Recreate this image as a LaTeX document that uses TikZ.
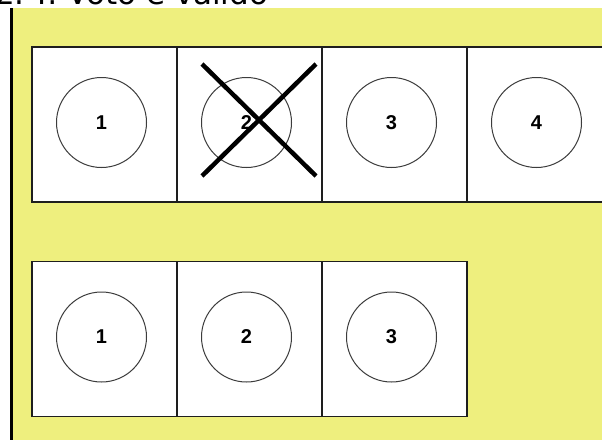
\documentclass[tikz,border=0pt]{standalone}
\usepackage{fontspec}
\setmainfont{DejaVu Sans}
\newfontfamily\numfont{Liberation Sans}
\definecolor{pageyellow}{RGB}{238,239,126}
\definecolor{boxline}{RGB}{30,30,30}
\definecolor{circline}{RGB}{60,60,60}
\begin{document}
\begin{tikzpicture}[x=1pt,y=-1pt,
  cell/.style={draw=boxline,line width=1.3pt,fill=white,minimum width=145pt,minimum height=155pt,inner sep=0pt,outer sep=0pt},
  ballot/.style={circle,draw=circline,line width=1pt,minimum size=90pt,inner sep=0pt,font=\numfont\bfseries\fontsize{20}{20}\selectfont},
  crossline/.style={line width=4.5pt}]
\useasboundingbox (0,0) rectangle (602,440);
\fill[white] (0,0) rectangle (602,440);
\fill[pageyellow] (12,8) rectangle (602,440);
\draw[line width=3pt] (11,8) -- (11,440);
\node[anchor=base west,inner sep=0pt,font=\fontsize{31}{31}\selectfont] (title) at (-5,4.5) {2. I: Voto è valido};
% top row
\node[cell] (t1) at (104.5,124.5) {};
\node[cell] (t2) at (249.5,124.5) {};
\node[cell] (t3) at (394.5,124.5) {};
\node[cell] (t4) at (539.5,124.5) {};
\node[ballot] (c1) at (101.5,122.5) {1};
\node[ballot] (c2) at (246.5,122.5) {2};
\node[ballot] (c3) at (391.5,122.5) {3};
\node[ballot] (c4) at (536.5,122.5) {4};
\coordinate (xa) at (202,64);
\coordinate (xb) at (316,176);
\coordinate (xc) at (316,64);
\coordinate (xd) at (202,176);
\draw[crossline] (xa) -- (xb);
\draw[crossline] (xc) -- (xd);
% bottom row
\node[cell] (b1) at (104.5,339) {};
\node[cell] (b2) at (249.5,339) {};
\node[cell] (b3) at (394.5,339) {};
\node[ballot] (d1) at (101.5,337) {1};
\node[ballot] (d2) at (246.5,337) {2};
\node[ballot] (d3) at (391.5,337) {3};
\end{tikzpicture}
\end{document}
